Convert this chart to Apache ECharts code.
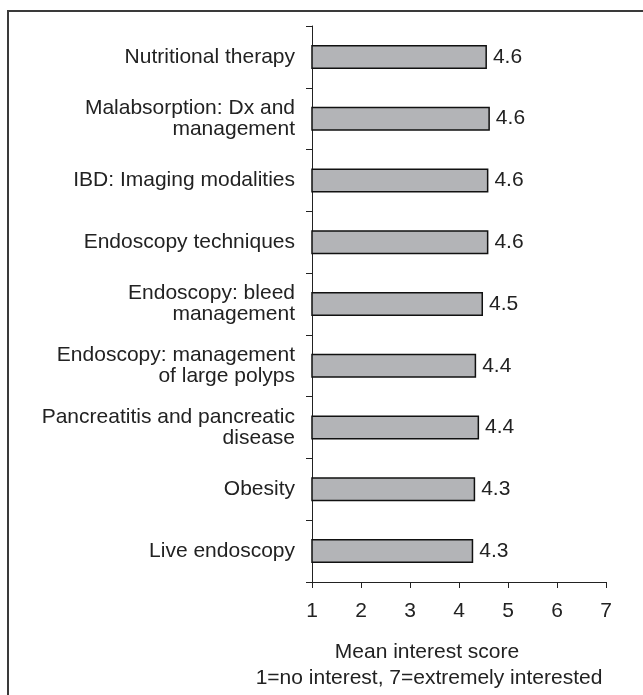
<!DOCTYPE html>
<html>
<head>
<meta charset="utf-8">
<script src="https://cdn.jsdelivr.net/npm/echarts@6/dist/echarts.min.js"></script>
<style>
  html, body { margin: 0; padding: 0; background: #fff; }
  #Bar { width: 643px; height: 695px; }
</style>
</head>
<body>
<div id="Bar"></div>
<script>
// 类目（从上到下）
var topicNames = [
    'Nutritional therapy',
    'Malabsorption: Dx and\nmanagement',
    'IBD: Imaging modalities',
    'Endoscopy techniques',
    'Endoscopy: bleed\nmanagement',
    'Endoscopy: management\nof large polyps',
    'Pancreatitis and pancreatic\ndisease',
    'Obesity',
    'Live endoscopy'
];
// 条形长度
var meanScores = [4.57, 4.63, 4.6, 4.6, 4.49, 4.35, 4.41, 4.33, 4.29];
// 标注文字
var scoreLabels = ['4.6', '4.6', '4.6', '4.6', '4.5', '4.4', '4.4', '4.3', '4.3'];
var xTicks = [1, 2, 3, 4, 5, 6, 7];
var axisTitle = ['Mean interest score', '1=no interest, 7=extremely interested'];

function BarChart(name, value, labels) {
    var myChart = echarts.init(document.getElementById('Bar'));
    var font = 'Liberation Sans, Arial, sans-serif';
    var option = {
        backgroundColor: '#fff',
        animation: false,
        graphic: [{
            type: 'rect',
            shape: { x: 8, y: 11, width: 700, height: 760 },
            style: { fill: 'none', stroke: '#3a3a3a', lineWidth: 2 }
        }, {
            type: 'text',
            x: 427, y: 652,
            style: { text: axisTitle[0], fill: '#222', font: '21px ' + font, textAlign: 'center', textVerticalAlign: 'middle' }
        }, {
            type: 'text',
            x: 429, y: 678,
            style: { text: axisTitle[1], fill: '#222', font: '21px ' + font, textAlign: 'center', textVerticalAlign: 'middle' }
        }],
        grid: { left: 312, right: 37, top: 26, bottom: 113 },
        xAxis: {
            type: 'value',
            min: xTicks[0],
            max: xTicks[xTicks.length - 1],
            interval: 1,
            splitLine: { show: false },
            axisLine: { show: true, lineStyle: { color: '#222', width: 1 } },
            axisTick: { show: true, length: 6, lineStyle: { color: '#222' } },
            axisLabel: { color: '#222', fontSize: 21, fontFamily: font, margin: 19 }
        },
        yAxis: {
            type: 'category',
            inverse: true,
            data: name,
            axisLine: { show: true, lineStyle: { color: '#222', width: 1 } },
            axisTick: { show: true, length: 6, lineStyle: { color: '#222' } },
            axisLabel: { color: '#222', fontSize: 21, fontFamily: font, lineHeight: 21, margin: 17, align: 'right' }
        },
        series: [{
            type: 'bar',
            data: value,
            barWidth: 24,
            itemStyle: { color: '#b3b4b7', borderColor: '#111', borderWidth: 1.5 },
            label: {
                show: true,
                position: 'right',
                distance: 6,
                color: '#222',
                fontSize: 21,
                fontFamily: font,
                formatter: function (p) { return labels[p.dataIndex]; }
            }
        }]
    };
    myChart.setOption(option);
}
BarChart(topicNames, meanScores, scoreLabels);
</script>
</body>
</html>
